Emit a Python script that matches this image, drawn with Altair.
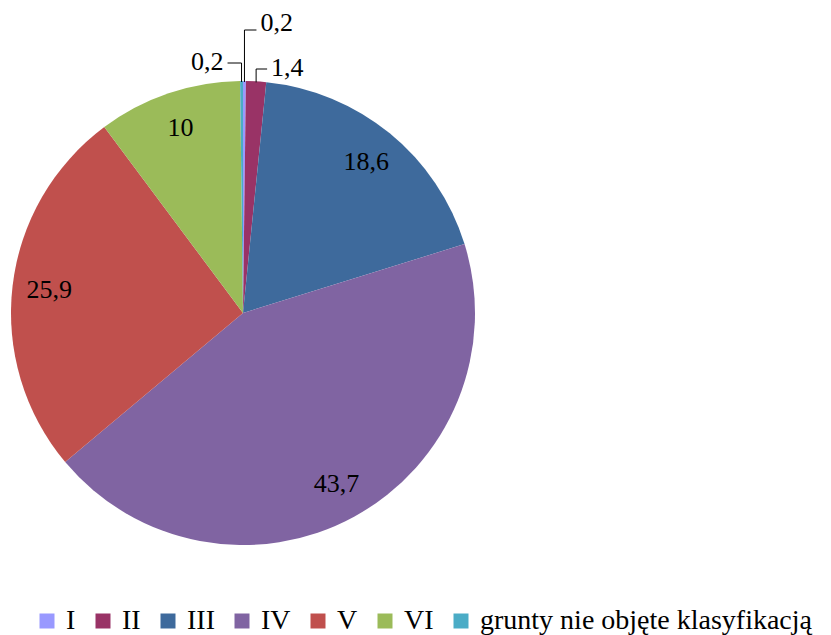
import altair as alt
import pandas as pd
import numpy as np

# ---- data ----
categories = ["I", "II", "III", "IV", "V", "VI", "grunty nie objęte klasyfikacją"]
shares = [0.2, 1.4, 18.6, 43.7, 25.9, 10, 0.2]
colors = ["#9999FF", "#993366", "#3E6A9C", "#8064A2", "#C0504D", "#9BBB59", "#4BACC6"]

# ---- layout (page pixels) ----
MARGIN = 8
W, H = 815, 627
CX, CY, R = 243, 313, 232
LABEL_R = 195
FONT = "Liberation Serif"


def fmt(v):
    return f"{v:g}".replace(".", ",")


df = pd.DataFrame({"cat": categories, "share": shares, "order": list(range(len(shares)))})
df["label"] = [fmt(v) if v >= 5 else "" for v in shares]

# leader-line styling for the small slices: elbow y (page), direction, leg length, text y
small_style = {
    "I": (30, 1, 12, 23),
    "II": (69, 1, 11, 68),
    "grunty nie objęte klasyfikacją": (63, -1, 14, 62),
}
total = float(sum(shares))
cum = np.concatenate([[0.0], np.cumsum(shares)])
line_rows, text_rows = [], []
for i, c in enumerate(categories):
    if c not in small_style:
        continue
    ey, d, leg, ty = small_style[c]
    a = (cum[i] + shares[i] / 2) / total * 2 * np.pi
    ax = CX + R * np.sin(a)
    ay = CY - R * np.cos(a) + 1
    pts = [(ax, ay), (ax, ey), (ax + d * leg, ey)]
    for k, (px, py) in enumerate(pts):
        line_rows.append({"cat": c, "pt": k, "x": px - MARGIN, "y": py - MARGIN})
    text_rows.append({"cat": c, "txt": fmt(shares[i]), "x": ax + d * (leg + 4) - MARGIN,
                      "y": ty - MARGIN, "align": "left" if d > 0 else "right"})
lines_df = pd.DataFrame(line_rows)
texts_df = pd.DataFrame(text_rows)

xs = alt.Scale(domain=[0, W], range=[0, W], nice=False, zero=False)
ys = alt.Scale(domain=[0, H], range=[0, H], nice=False, zero=False)

theta = alt.Theta("share:Q", stack=True)
order = alt.Order("order:Q")

pie = alt.Chart(df).mark_arc(radius=R, strokeWidth=0).encode(
    theta=theta,
    order=order,
    x=alt.value(CX - MARGIN),
    y=alt.value(CY - MARGIN),
    color=alt.Color(
        "cat:N",
        scale=alt.Scale(domain=categories, range=colors),
        sort=categories,
        legend=alt.Legend(
            title=None,
            orient="none",
            direction="horizontal",
            columns=7,
            legendX=25,
            legendY=599,
            padding=0,
            symbolType="square",
            symbolSize=225,
            symbolStrokeWidth=0,
            labelFont=FONT,
            labelFontSize=28,
            labelColor="black",
            labelLimit=0,
            labelOffset=5,
            columnPadding=13,
        ),
    ),
)

big_labels = alt.Chart(df).mark_text(
    radius=LABEL_R, font=FONT, fontSize=26, color="black"
).encode(
    theta=theta,
    order=order,
    text="label:N",
    x=alt.value(CX - MARGIN),
    y=alt.value(CY - MARGIN),
)

leaders = alt.Chart(lines_df).mark_line(color="black", strokeWidth=1).encode(
    x=alt.X("x:Q", scale=xs, axis=None),
    y=alt.Y("y:Q", scale=ys, axis=None),
    detail="cat:N",
    order="pt:Q",
)

small_left = alt.Chart(texts_df[texts_df["align"] == "left"]).mark_text(
    font=FONT, fontSize=26, color="black", align="left", baseline="middle"
).encode(
    x=alt.X("x:Q", scale=xs, axis=None),
    y=alt.Y("y:Q", scale=ys, axis=None),
    text="txt:N",
)
small_right = alt.Chart(texts_df[texts_df["align"] == "right"]).mark_text(
    font=FONT, fontSize=26, color="black", align="right", baseline="middle"
).encode(
    x=alt.X("x:Q", scale=xs, axis=None),
    y=alt.Y("y:Q", scale=ys, axis=None),
    text="txt:N",
)

chart = (
    alt.layer(pie, big_labels, leaders, small_left, small_right)
    .properties(width=W, height=H, autosize="none", padding=0, background="white")
    .configure_view(stroke=None)
)

chart.save("out.html", embed_options={"renderer": "svg", "actions": False})
